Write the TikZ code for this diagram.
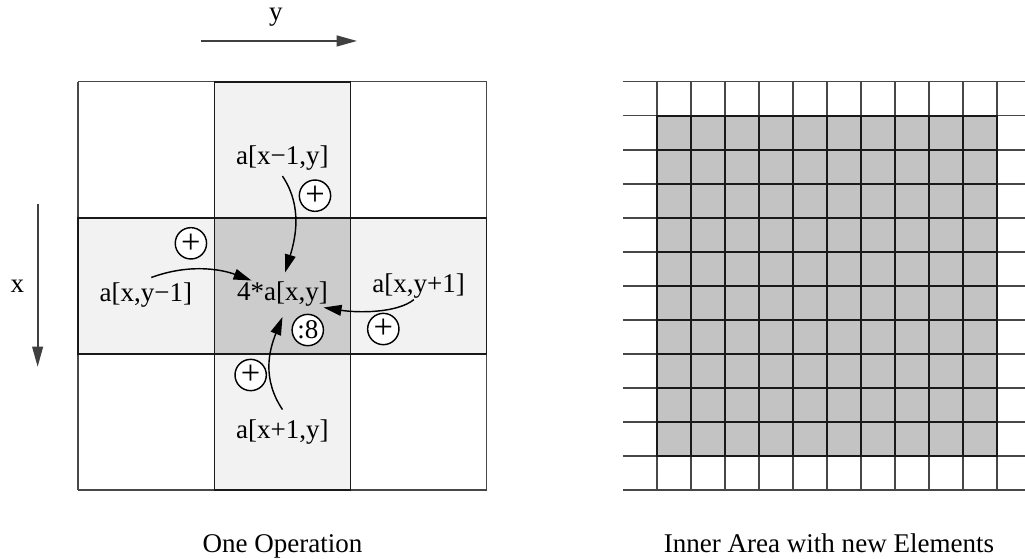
\documentclass[tikz,border=0pt]{standalone}
\usepackage{fontspec}
\setmainfont{Liberation Serif}
\usepackage{xcolor}
\usepackage{tikz}
\usetikzlibrary{arrows.meta, calc}

\definecolor{midgray}{gray}{0.80}
\definecolor{crossgray}{gray}{0.95}
\definecolor{innergray}{gray}{0.765}

\begin{document}
\begin{tikzpicture}[font=\fontsize{11.3}{13.5}\selectfont,
  >={Triangle[length=7.5pt, width=4.5pt]},
  gridline/.style = {draw=black!72, line width=0.65pt},
  darkline/.style = {draw=black!90, line width=0.7pt},
  cell/.style     = {inner sep=2pt},
  op/.style       = {draw, circle, fill=white, inner sep=0pt,
                     minimum size=0.46cm, line width=0.6pt},
  flow/.style     = {->, line width=0.6pt},
  axis/.style     = {-{Triangle[length=8.5pt, width=4.5pt]},
                     draw=black!75, line width=0.8pt}
]
  \useasboundingbox (-1.15,-7.0) rectangle (13.91,1.2);

  %% left grid: one operation
  \fill[crossgray] (2,0) rectangle (4,-6);
  \fill[crossgray] (0,-2) rectangle (6,-4);
  \fill[midgray] (2,-2) rectangle (4,-4);
  \draw[gridline, step=2] (0,-6) grid (6,0);
  \draw[darkline] (2,0) rectangle (4,-6);
  \draw[darkline] (0,-2) rectangle (6,-4);

  %% right grid: inner area
  \begin{scope}
    \clip (7.9,-6.1) rectangle (13.91,0.1);
    \fill[innergray] (8.5,-0.5) rectangle (13.5,-5.5);
    \draw[gridline, step=0.5] (8,-6) grid (14,0);
    \draw[darkline, step=0.5] (8.5,-5.5) grid (13.5,-0.5);
    \draw[darkline] (8.5,-0.5) rectangle (13.5,-5.5);
  \end{scope}

  %% axes
  \node[anchor=base] (ylabel) at (2.905,0.892) {y};
  \coordinate (ytail) at (1.803,0.598);
  \coordinate (yhead) at (4.096,0.598);
  \draw[axis] (ytail) -- (yhead);

  \node[anchor=base] (xlabel) at (-0.896,-3.10) {x};
  \coordinate (xtail) at (-0.597,-1.797);
  \coordinate (xhead) at (-0.597,-4.19);
  \draw[axis] (xtail) -- (xhead);

  %% cell values
  \node[cell, anchor=base] (up)    at (3,-1.224)    {a[x−1,y]};
  \node[cell, anchor=base] (left)  at (0.993,-3.23) {a[x,y−1]};
  \node[cell, anchor=base] (mid)   at (3,-3.215)    {4*a[x,y]};
  \node[cell, anchor=base] (right) at (5,-3.10)     {a[x,y+1]};
  \node[cell, anchor=base] (down)  at (3,-5.25)     {a[x+1,y]};

  %% operators
  \node[op] (opup)    at (3.478,-1.675) {\Large +};
  \node[op] (opleft)  at (1.655,-2.375) {\Large +};
  \node[op] (opright) at (4.482,-3.634) {\Large +};
  \node[op] (opdown)  at (2.533,-4.31)  {\Large +};
  \node[op] (opdiv)   at (3.372,-3.649) {:8};

  %% flows into the centre
  \draw[flow] (up.south) .. controls +(0.3,-0.45) and +(0.15,0.5) ..
      ([shift={(0.04,0.06)}]mid.north);
  \draw[flow] ([xshift=0.08cm]left.north) .. controls +(0.6,0.22) and +(-0.4,0.15) ..
      ($(mid.north west)+(0.29,-0.06)$);
  \draw[flow] ($(right.south)+(-0.07,0.06)$) .. controls +(-0.25,-0.2) and +(0.5,-0.08) ..
      ($(mid.south east)+(-0.14,0.06)$);
  \draw[flow] ([yshift=0.08cm]down.north) .. controls +(-0.3,0.45) and +(-0.2,-0.5) ..
      ([yshift=-0.08cm]mid.south);

  %% captions
  \node[anchor=base] (optitle)    at (3,-6.911)     {One Operation};
  \node[anchor=base] (innertitle) at (11.03,-6.911) {Inner Area with new Elements};
\end{tikzpicture}
\end{document}
